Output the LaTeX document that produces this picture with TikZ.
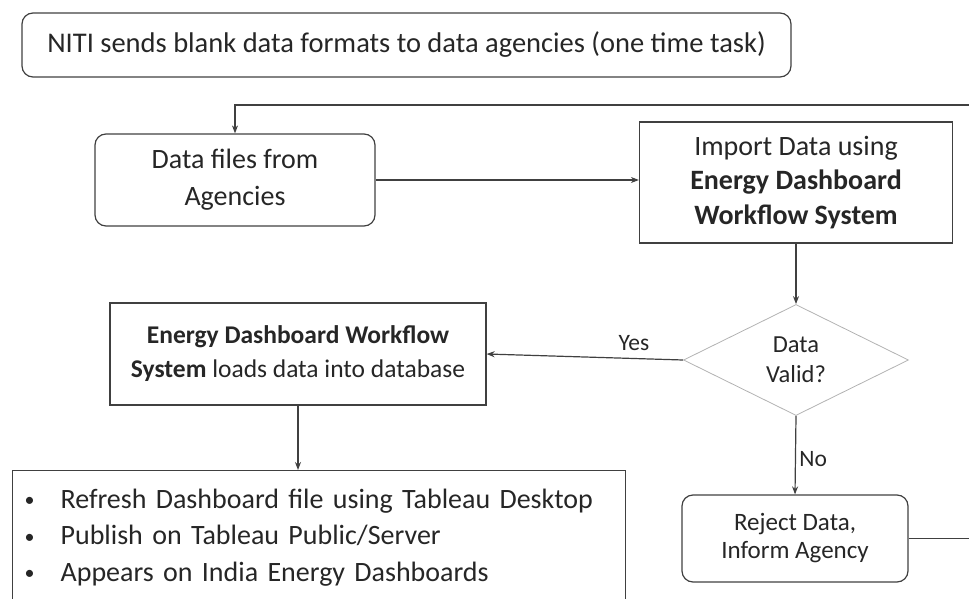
\documentclass[tikz,border=0pt]{standalone}
\usepackage{fontspec}
\setmainfont{Carlito}
\usetikzlibrary{shapes.geometric}
\usetikzlibrary{arrows.meta}

\newcommand{\dashbullet}{\makebox[36pt][l]{\fontsize{20}{20}\selectfont\raisebox{1.5pt}{\textbullet}}}

\begin{document}
\begin{tikzpicture}[x=1pt,y=-1pt,line width=1.2pt,
        box/.style={rectangle,draw=black!75,text=black!85,align=center,inner sep=0pt},
        rbox/.style={box,rounded corners=11pt},
        arr/.style={draw=black!75,-{Stealth[length=8pt,width=6pt]}}]
        \clip (0,0) rectangle (969,599);

        \node[rbox,minimum width=769pt,minimum height=64pt,font=\fontsize{28.5}{32}\selectfont] (niti) at (406.5,45) {NITI sends blank data formats to data agencies (one time task)};
        \node[rbox,minimum width=280pt,minimum height=92pt,font=\fontsize{28}{37}\selectfont] (files) at (235,180) {Data files from\\Agencies};
        \node[box,minimum width=313pt,minimum height=121pt,font=\fontsize{28}{34.5}\selectfont] (import) at (796,182.5) {Import Data using\\\textbf{Energy Dashboard}\\\textbf{Workflow System}};
        \node[diamond,draw=gray!60,line width=0.8pt,text=black!85,minimum width=225pt,minimum height=111pt,inner sep=0pt,align=center,font=\fontsize{24.5}{30}\selectfont] (valid) at (796,360) {Data\\Valid?};
        \node[box,minimum width=376pt,minimum height=102pt,font=\fontsize{25.5}{34}\selectfont] (edws) at (298,354) {\textbf{Energy Dashboard Workflow}\\\textbf{System} loads data into database};
        \node[rbox,minimum width=226pt,minimum height=87pt,font=\fontsize{25}{28}\selectfont] (reject) at (795,538.5) {Reject Data,\\Inform Agency};
        \node[box,anchor=north west,minimum width=613pt,minimum height=134pt,text width=589pt,inner xsep=12pt,align=left,font=\fontsize{28}{36.5}\selectfont] (pub) at (12,470) {%
            \dashbullet Refresh Dashboard file using Tableau Desktop\\
            \dashbullet Publish on Tableau Public/Server\\
            \dashbullet Appears on India Energy Dashboards};
        \coordinate (back) at (990,105);

        \draw[arr] (files.east) -- (files.east -| import.west);
        \draw[arr] (import.south) -- (valid.north);
        \draw[arr] (valid.west) -- node[above,pos=0.25,inner sep=7pt,text=black!85,font=\fontsize{23.5}{26}\selectfont] (yes) {Yes} (edws.east);
        \draw[arr] (valid.south) -- node[right,pos=0.55,text=black!85,font=\fontsize{23.5}{26}\selectfont] (no) {No} (reject.north);
        \draw[arr] (edws.south) -- (edws.south |- pub.north);
        \draw[arr] (reject.east) -| (back) -| (files.north);

    \end{tikzpicture}
\end{document}
